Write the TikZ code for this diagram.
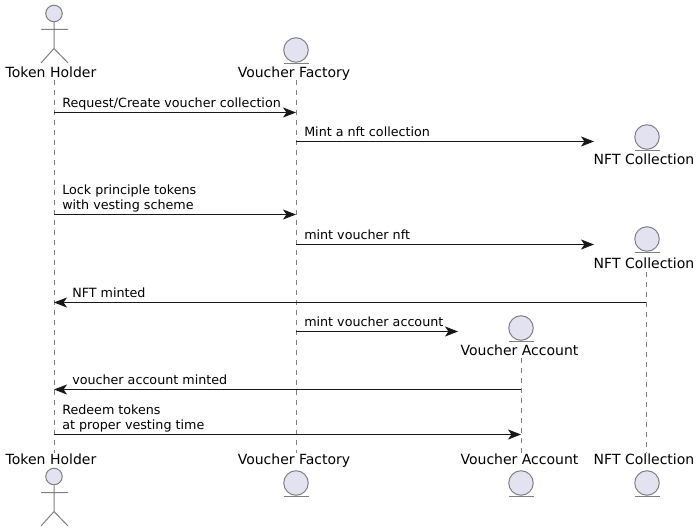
\documentclass[tikz,border=0pt]{standalone}
\usepackage{fontspec}
\setmainfont{DejaVu Sans}
\usetikzlibrary{arrows.meta}
\definecolor{partfill}{HTML}{E2E2F0}
\definecolor{partline}{HTML}{808080}
\definecolor{msgline}{HTML}{181818}
\tikzset{
  partname/.style={anchor=base,inner sep=0pt,text height=8pt,text depth=2pt,font=\fontsize{10.5pt}{12pt}\selectfont},
  msgtext/.style={anchor=south west,inner sep=0pt,text depth=2.5pt,align=left,font=\fontsize{9.53pt}{11.25pt}\selectfont},
  lifeline/.style={draw=partline,line width=0.75pt,dash pattern=on 3.75pt off 3.75pt},
  msg/.style={draw=msgline,line width=0.75pt,-{Stealth[length=9.75pt,width=7.5pt,inset=2.6pt]},shorten >=0pt},
  bodyline/.style={draw=partline,line width=0.75pt},
  headcirc/.style={circle,draw=partline,fill=partfill,line width=0.75pt,inner sep=0pt,minimum size=#1}
}

\begin{document}
\begin{tikzpicture}[x=0.75pt,y=-0.75pt]
\useasboundingbox (0,0) rectangle (699,531);
\fill[white] (0,0) rectangle (699,531);

% participant names
\node[partname] (thTop) at (51,78) {Token Holder};
\node[partname] (vfTop) at (294,78) {Voucher Factory};
\node[partname] (thBot) at (51,464) {Token Holder};
\node[partname] (vfBot) at (294,464) {Voucher Factory};
\node[partname] (vaBot) at (519.5,464) {Voucher Account};
\node[partname] (ncBot) at (644,464) {NFT Collection};
\node[partname] (ncOne) at (644,165) {NFT Collection};
\node[partname] (ncTwo) at (644,268) {NFT Collection};
\node[partname] (vaTop) at (519.5,355) {Voucher Account};

% lifelines
\coordinate (thA) at (54,80);
\coordinate (thB) at (54,453);
\coordinate (vfA) at (296,80);
\coordinate (vfB) at (296,453);
\coordinate (vaA) at (521,358);
\coordinate (vaB) at (521,453);
\coordinate (ncA) at (646,272);
\coordinate (ncB) at (646,453);
\draw[lifeline] (thA) -- (thB);
\draw[lifeline] (vfA) -- (vfB);
\draw[lifeline] (vaA) -- (vaB);
\draw[lifeline] (ncA) -- (ncB);

% entities
\foreach \px/\py/\pname in {296/50/vfT,647/137/ncO,647/239/ncW,521/328/vaT,296/483/vfE,521/483/vaE,647/483/ncE}{
  \node[headcirc=24.5*0.75pt] (\pname) at (\px,\py) {};
  \draw[bodyline] (\px-12.5,\py+13.5) -- (\px+12.5,\py+13.5);
}

% actors
\foreach \py/\pname in {13.5/thT,476.5/thE}{
  \node[headcirc=16.5*0.75pt] (\pname) at (54,\py) {};
  \draw[bodyline] (\pname.south) -- (54,\py+35)
    (41,\py+16) -- (68,\py+16)
    (41,\py+49.5) -- (54,\py+35) -- (68,\py+49.5);
}

% messages
\coordinate (m1a) at (54,112.5);   \coordinate (m1b) at (296,112.5);
\coordinate (m2a) at (296,141.5);  \coordinate (m2b) at (594,141.5);
\coordinate (m3a) at (54,214.5);   \coordinate (m3b) at (296,214.5);
\coordinate (m4a) at (296,244.5);  \coordinate (m4b) at (594,244.5);
\coordinate (m5a) at (646,302.5);  \coordinate (m5b) at (54,302.5);
\coordinate (m6a) at (296,331.5);  \coordinate (m6b) at (458,331.5);
\coordinate (m7a) at (521,389.5);  \coordinate (m7b) at (54,389.5);
\coordinate (m8a) at (54,434.5);   \coordinate (m8b) at (521,434.5);
\draw[msg] (m1a) -- (m1b);
\draw[msg] (m2a) -- (m2b);
\draw[msg] (m3a) -- (m3b);
\draw[msg] (m4a) -- (m4b);
\draw[msg] (m5a) -- (m5b);
\draw[msg] (m6a) -- (m6b);
\draw[msg] (m7a) -- (m7b);
\draw[msg] (m8a) -- (m8b);

% message labels
\node[msgtext] (t1) at (62,111) {Request/Create voucher collection};
\node[msgtext] (t2) at (304,140) {Mint a nft collection};
\node[msgtext] (t3) at (62,213) {Lock principle tokens\\with vesting scheme};
\node[msgtext] (t4) at (304,243) {mint voucher nft};
\node[msgtext] (t5) at (72,301) {NFT minted};
\node[msgtext] (t6) at (304,330) {mint voucher account};
\node[msgtext] (t7) at (72,388) {voucher account minted};
\node[msgtext] (t8) at (62,433) {Redeem tokens\\at proper vesting time};
\end{tikzpicture}
\end{document}
